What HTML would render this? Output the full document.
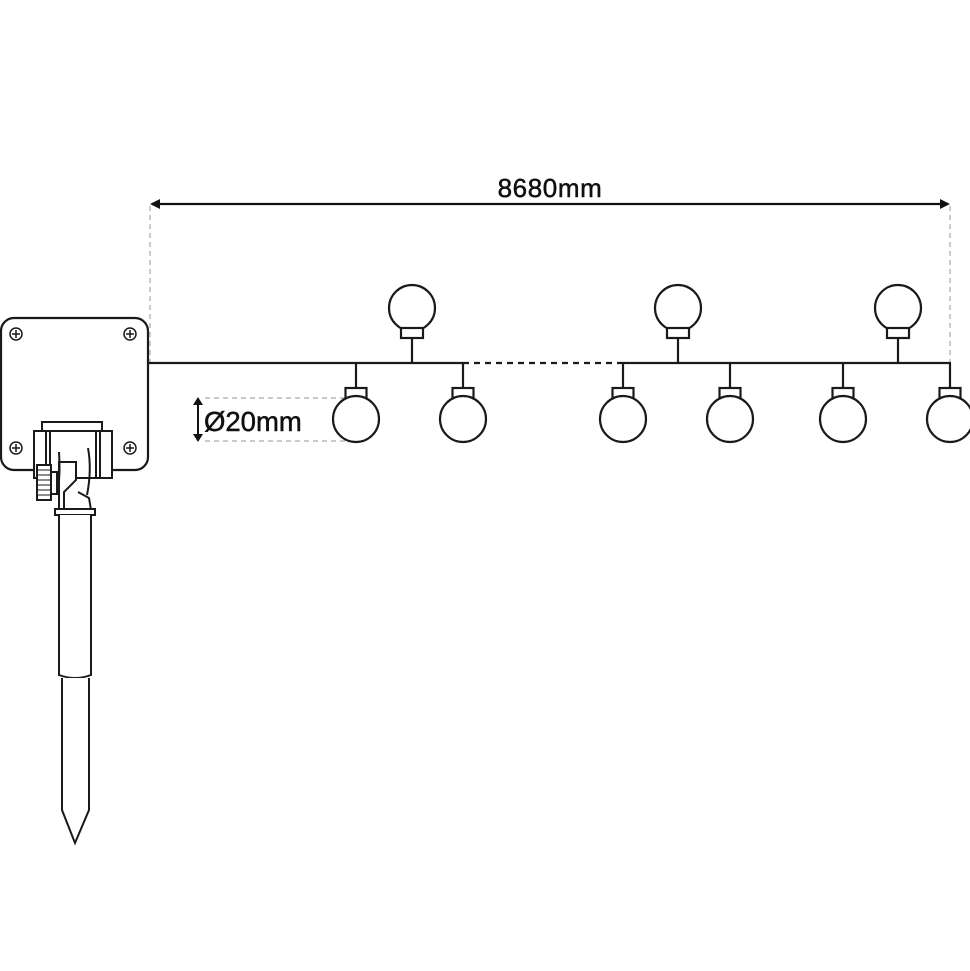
<!DOCTYPE html>
<html><head><meta charset="utf-8"><style>
html,body{margin:0;padding:0;background:#fff;}
svg{display:block;}
text{font-family:"Liberation Sans",sans-serif;fill:#111;stroke:#111;stroke-width:0.5;}
</style></head><body>
<svg width="970" height="971" viewBox="0 0 970 971" xmlns="http://www.w3.org/2000/svg">
<defs>
<g id="up" fill="#fff" stroke="#1a1a1a" stroke-width="2.2">
<circle cx="0" cy="-55" r="23"/>
<rect x="-11" y="-35" width="22" height="10"/>
<line x1="0" y1="-25" x2="0" y2="0"/>
</g>
<g id="dn" fill="#fff" stroke="#1a1a1a" stroke-width="2.2">
<line x1="0" y1="0" x2="0" y2="25"/>
<rect x="-10.5" y="25" width="21" height="10"/>
<circle cx="0" cy="56" r="23"/>
</g>
</defs>
<g stroke="#aaa" stroke-width="1.2" stroke-dasharray="5,4">
<line x1="150" y1="206" x2="150" y2="362"/>
<line x1="950" y1="206" x2="950" y2="362"/>
<line x1="205" y1="398" x2="345" y2="398"/>
<line x1="205" y1="441" x2="345" y2="441"/>
</g>
<line x1="152" y1="204" x2="948" y2="204" stroke="#111" stroke-width="2.2"/>
<path d="M150 204 L160 199 L160 209 Z M950 204 L940 199 L940 209 Z" fill="#111"/>
<text x="550" y="197" font-size="26" text-anchor="middle" letter-spacing="0.6">8680mm</text>
<line x1="198" y1="400" x2="198" y2="439" stroke="#111" stroke-width="2"/>
<path d="M198 397 L193 405 L203 405 Z M198 442 L193 434 L203 434 Z" fill="#111"/>
<text x="204" y="431" font-size="27.5">Ø20mm</text>
<g stroke="#1a1a1a" stroke-width="2.2">
<line x1="148" y1="363" x2="463" y2="363"/>
<line x1="463" y1="363" x2="623" y2="363" stroke-dasharray="6,5"/>
<line x1="623" y1="363" x2="951" y2="363"/>
</g>
<use href="#up" x="412" y="363"/>
<use href="#up" x="678" y="363"/>
<use href="#up" x="898" y="363"/>
<use href="#dn" x="356" y="363"/>
<use href="#dn" x="463" y="363"/>
<use href="#dn" x="623" y="363"/>
<use href="#dn" x="730" y="363"/>
<use href="#dn" x="843" y="363"/>
<use href="#dn" x="950" y="363"/>
<g fill="#fff" stroke="#1a1a1a" stroke-width="2.2">
<rect x="1" y="318" width="147" height="152" rx="13"/>
</g>
<g fill="#fff" stroke="#1a1a1a" stroke-width="1.5">
<circle cx="16" cy="334" r="6"/><circle cx="130" cy="334" r="6"/>
<circle cx="16" cy="448" r="6"/><circle cx="130" cy="448" r="6"/>
</g>
<g stroke="#1a1a1a" stroke-width="1.5">
<path d="M12 334h8M16 330v8M126 334h8M130 330v8M12 448h8M16 444v8M126 448h8M130 444v8"/>
</g>
<g fill="#fff" stroke="#1a1a1a" stroke-width="2">
<rect x="42" y="422" width="60" height="9"/>
<rect x="34" y="431" width="78" height="47"/>
<line x1="46" y1="431" x2="46" y2="478"/><line x1="50" y1="431" x2="50" y2="478"/>
<line x1="96" y1="431" x2="96" y2="478"/><line x1="100" y1="431" x2="100" y2="478"/>
<path d="M59 510 L59 462 L76 462 L76 480 L64 492 L64 510" />
<path d="M78 492 L89 498 L91 510" fill="none"/>
<path d="M59 452 Q60 470 59 480 M88 448 Q92 470 87 495" fill="none"/>
<rect x="37" y="465" width="14" height="35"/>
<rect x="51" y="472" width="6" height="22"/>
<rect x="55" y="509" width="40" height="6"/>
<path d="M59 515 L59 675 Q75 681 91 675 L91 515"/>
<path d="M62 678 L62 810 L75 843 L89 810 L89 678"/>
</g>
<g stroke="#1a1a1a" stroke-width="1">
<path d="M37 470h14M37 475h14M37 480h14M37 485h14M37 490h14M37 495h14"/>
</g>
</svg>
</body></html>
